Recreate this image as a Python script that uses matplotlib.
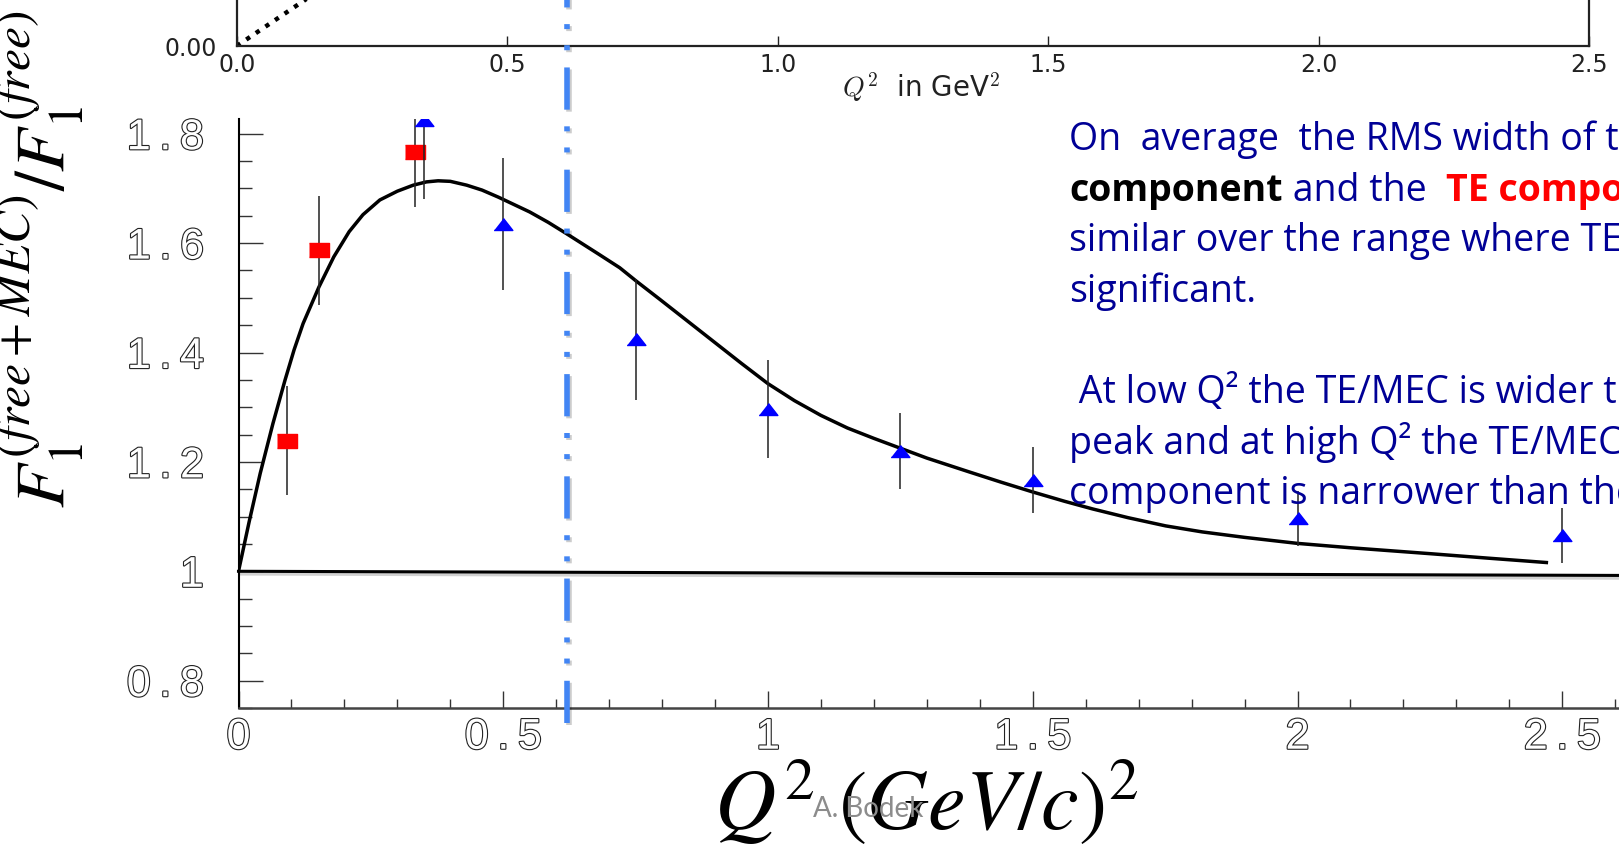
import matplotlib.pyplot as plt
import matplotlib.patheffects as pe
from matplotlib.ticker import MultipleLocator, FixedLocator, FixedFormatter


""" F1(free+MEC)/F1(free) 隨 Q^2 的變化。 """

# 模型曲線
curve_q2 = [0.0, 0.02, 0.041, 0.065, 0.088, 0.105, 0.122, 0.152, 0.18, 0.209,
            0.235, 0.267, 0.30, 0.330, 0.355, 0.377, 0.40, 0.431, 0.46, 0.491,
            0.55, 0.585, 0.620, 0.68, 0.72, 0.752, 0.796, 0.85, 0.9, 0.95,
            1.0, 1.05, 1.1, 1.15, 1.2, 1.25, 1.3, 1.379, 1.44, 1.5,
            1.56, 1.613, 1.68, 1.751, 1.82, 1.9, 2.0, 2.1, 2.253, 2.36, 2.47]
curve_ratio = [1.0, 1.09, 1.179, 1.27, 1.350, 1.405, 1.453, 1.520, 1.575, 1.621,
               1.652, 1.679, 1.695, 1.706, 1.712, 1.714, 1.713, 1.706, 1.697, 1.684,
               1.657, 1.638, 1.617, 1.580, 1.555, 1.530, 1.497, 1.456, 1.418, 1.380,
               1.343, 1.312, 1.285, 1.262, 1.243, 1.225, 1.207, 1.182, 1.163, 1.145,
               1.128, 1.114, 1.098, 1.083, 1.072, 1.062, 1.051, 1.043, 1.032, 1.024, 1.016]

# 紅色資料點 (TE)
te_q2 = [0.092, 0.152, 0.333]
te_ratio = [1.239, 1.587, 1.767]
te_err = [0.10, 0.10, 0.10]

# 藍色三角資料點
tri_q2 = [0.35, 0.5, 0.75, 1.0, 1.25, 1.5, 2.0, 2.5]
tri_ratio = [1.825, 1.635, 1.424, 1.297, 1.220, 1.167, 1.097, 1.066]
tri_err = [0.145, 0.12, 0.11, 0.09, 0.07, 0.06, 0.05, 0.05]

# y = 1 參考線
ref_q2 = [0.0, 2.75]
ref_ratio = [1.0, 0.992]

# 藍色虛點線位置
cut_q2 = 0.62

# 上方小圖
top_q2 = [0.0, 0.2]
top_val = [0.0, 0.146]
top_xticks = [0.0, 0.5, 1.0, 1.5, 2.0, 2.5]

main_xticks = [0, 0.5, 1, 1.5, 2, 2.5]
main_xlabels = ['0', '0\u2009.\u20095', '1', '1\u2009.\u20095', '2', '2\u2009.\u20095']
main_yticks = [0.8, 1.0, 1.2, 1.4, 1.6, 1.8]
main_ylabels = ['0\u2009.\u20098', '1', '1\u2009.\u20092', '1\u2009.\u20094',
                '1\u2009.\u20096', '1\u2009.\u20098']

text_lines = [
    'On  average  the RMS width of the',
    None,
    'similar over the range where TE is',
    'significant.',
    '',
    ' At low Q\u00b2 the TE/MEC is wider than',
    'peak and at high Q\u00b2 the TE/MEC',
    'component is narrower than the',
]

W, H = 1619, 846
plt.rcParams['mathtext.fontset'] = 'stix'
fig = plt.figure(figsize=(W / 100, H / 100), dpi=100)

# 上方小圖 (只露出底部)
axt = fig.add_axes([236.7 / W, 1 - 46 / H, 1352.3 / W, 200 / H])
axt.plot(top_q2, top_val, color='k', lw=3.2, linestyle=(0, (1, 1.6)))
axt.set_xlim(0, 2.5)
axt.set_ylim(0, 0.4)
axt.xaxis.set_major_locator(FixedLocator(top_xticks))
axt.xaxis.set_major_formatter(FixedFormatter(['%.1f' % v for v in top_xticks]))
axt.yaxis.set_major_locator(FixedLocator([0.0]))
axt.yaxis.set_major_formatter(FixedFormatter(['0.00']))
axt.tick_params(axis='x', direction='in', length=7, width=1, pad=5,
                labelsize=17, colors='#222')
axt.tick_params(axis='y', length=0, pad=14, labelsize=17, colors='#222')
for s in axt.spines.values():
    s.set_linewidth(1.6)
    s.set_color('#222')
fig.text(921 / W, 1 - 87 / H, r'$Q^2$  in GeV$^2$', ha='center', va='center',
         fontsize=20, color='#222', math_fontfamily='cm')

# 主圖
ax = fig.add_axes([238.5 / W, 1 - 708 / H, 2.75 * 529.5 / W, 589 / H])
ax.patch.set_alpha(0)
ax.set_xlim(0, 2.75)
ax.set_ylim(0.75, 1.827)

shadow = [pe.SimpleLineShadow(offset=(1.5, -2), shadow_color='k', alpha=0.18), pe.Normal()]
ax.plot(ref_q2, ref_ratio, color='k', lw=2.2, path_effects=shadow, clip_on=False)
ax.plot(curve_q2, curve_ratio, color='k', lw=2.5)

ax.errorbar(te_q2, te_ratio, yerr=te_err, fmt='none', ecolor='#222', elinewidth=1.1)
ax.plot(te_q2, te_ratio, linestyle='none', color='#ff0000', markersize=14.5,
        marker=[(-1, -0.66), (1, -0.66), (1, 0.66), (-1, 0.66)])
ax.errorbar(tri_q2, tri_ratio, yerr=tri_err, fmt='none', ecolor='#222', elinewidth=1.1)
ax.plot(tri_q2, tri_ratio, linestyle='none', color='#0000ff', markersize=13.5,
        marker=[(-1, -0.64), (1, -0.64), (0, 0.64)])

# 藍色點劃線,穿過兩張圖
ax.plot([cut_q2, cut_q2], [0.7226, 2.1], color='#4285f4', lw=4,
        linestyle=(0, (7.6, 3.1, 0.9, 2.9, 0.9, 3.0)), clip_on=False, zorder=5,
        path_effects=[pe.SimpleLineShadow(offset=(1.5, -1.5), shadow_color='k', alpha=0.2),
                      pe.Normal()])

ax.spines['top'].set_visible(False)
ax.spines['right'].set_visible(False)
ax.spines['left'].set_linewidth(1.5)
ax.spines['bottom'].set_linewidth(1.8)
ax.spines['bottom'].set_color('#444')

ax.xaxis.set_major_locator(FixedLocator(main_xticks))
ax.xaxis.set_major_formatter(FixedFormatter(main_xlabels))
ax.xaxis.set_minor_locator(MultipleLocator(0.1))
ax.yaxis.set_major_locator(FixedLocator(main_yticks))
ax.yaxis.set_major_formatter(FixedFormatter(main_ylabels))
ax.yaxis.set_minor_locator(MultipleLocator(0.05))
ax.tick_params(axis='y', which='major', direction='in', length=17, width=1, pad=25,
               labelsize=31, color='#333')
ax.tick_params(axis='y', which='minor', direction='in', length=9, width=1, color='#333')
ax.tick_params(axis='x', which='major', direction='in', length=12, width=1, pad=7,
               labelsize=31, color='#333')
ax.tick_params(axis='x', which='minor', direction='in', length=6.5, width=1, color='#333')
for lab in ax.get_xticklabels() + ax.get_yticklabels():
    lab.set_family(['Liberation Sans', 'DejaVu Sans'])
    lab.set_color('white')
    lab.set_path_effects([pe.withStroke(linewidth=1.6, foreground='#222')])

fig.text(40 / W, 1 - 508 / H, r'$F_1^{(free+MEC)}/F_1^{(free)}$', rotation=90,
         ha='center', va='bottom', fontsize=51, color='k')
fig.text(926 / W, 1 - 829 / H, r'$Q^2\ (GeV/c)^2$', ha='center', va='baseline',
         fontsize=61, color='k')

# 右側說明文字
blue = '#000096'
tkw = dict(fontsize=27, family='Open Sans', va='baseline')
renderer = fig.canvas.get_renderer()
x0 = 1069 / W
for i, line in enumerate(text_lines):
    y = 1 - (150 + 50.6 * i) / H
    if line is None:
        t = fig.text(x0, y, 'component', color='k', fontweight='bold', **tkw)
        x1 = t.get_window_extent(renderer).x1 / W
        t = fig.text(x1, y, ' and the  ', color=blue, **tkw)
        x1 = t.get_window_extent(renderer).x1 / W
        fig.text(x1, y, 'TE component are', color='#ff0000', fontweight='bold', **tkw)
    elif line:
        fig.text(x0, y, line, color=blue, **tkw)

fig.text(813 / W, 1 - 817 / H, 'A. Bodek', color='#8c8c8c', fontsize=20,
         family='Lato', va='baseline', zorder=10)

plt.savefig('out.png', dpi=100)
